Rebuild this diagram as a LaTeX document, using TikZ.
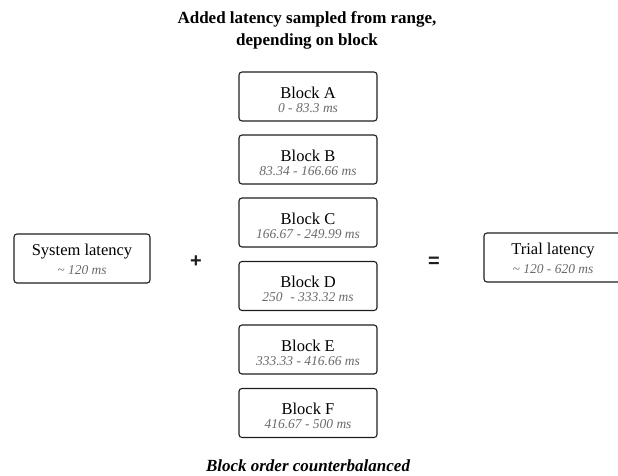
\documentclass[tikz,border=0pt]{standalone}
\usepackage{fontspec}
\setmainfont{Liberation Serif}
\newfontfamily\opfont{Liberation Sans}
\definecolor{subgray}{HTML}{6A6A6A}
\definecolor{boxline}{HTML}{1E1E1E}
\begin{document}
\begin{tikzpicture}[x=1pt,y=-1pt,
  box/.style={draw=boxline, line width=1.1pt, rounded corners=3pt,
    minimum width=138pt, minimum height=49pt, inner sep=0pt},
  maintxt/.style={font=\fontsize{16.5}{18}\selectfont, anchor=base, inner sep=0pt},
  subtxt/.style={font=\fontsize{13.5}{15}\selectfont\itshape, text=subgray, anchor=base, inner sep=0pt},
  titletxt/.style={font=\fontsize{17}{20}\selectfont\bfseries, anchor=base, inner sep=0pt},
  optxt/.style={font=\opfont\bfseries\fontsize{20}{22}\selectfont, text=boxline, inner sep=0pt}
]
\useasboundingbox (0,0) rectangle (618,475);

% title
\node[titletxt] (t1) at (307,23) {Added latency sampled from range,};
\node[titletxt] (t2) at (307,45) {depending on block};

% blocks
\foreach \nm/\yc/\rng in {A/96.5/0 - 83.3 ms, B/159.5/83.34 - 166.66 ms, C/222.5/166.67 - 249.99 ms,
    D/286/250\,\, - 333.32 ms, E/349.5/333.33 - 416.66 ms, F/413/416.67 - 500 ms}{
  \node[box] (b\nm) at (308,\yc) {};
  \node[maintxt] (b\nm t) at ([yshift=-1.5pt]b\nm.center) {Block \nm};
  \node[subtxt] (b\nm s) at ([yshift=-15.5pt]b\nm.center) {\rng};
}

% system latency
\node[box, minimum width=136pt] (sys) at (82,258.5) {};
\node[maintxt] (syst) at ([yshift=3pt]sys.center) {System latency};
\node[subtxt] (syss) at ([yshift=-16pt]sys.center) {\char"7E\ 120 ms};

% trial latency
\node[box] (trial) at (553,257.5) {};
\node[maintxt] (trialt) at ([yshift=3pt]trial.center) {Trial latency};
\node[subtxt] (trials) at ([yshift=-16pt]trial.center) {\char"7E\ 120 - 620 ms};

% operators
\node[optxt] (plus) at (196,262) {+};
\node[optxt] (eq) at (434,262) {=};

% bottom caption
\node[titletxt, font=\fontsize{17}{20}\selectfont\bfseries\itshape] (cap) at (308,471) {Block order counterbalanced};
\end{tikzpicture}
\end{document}
